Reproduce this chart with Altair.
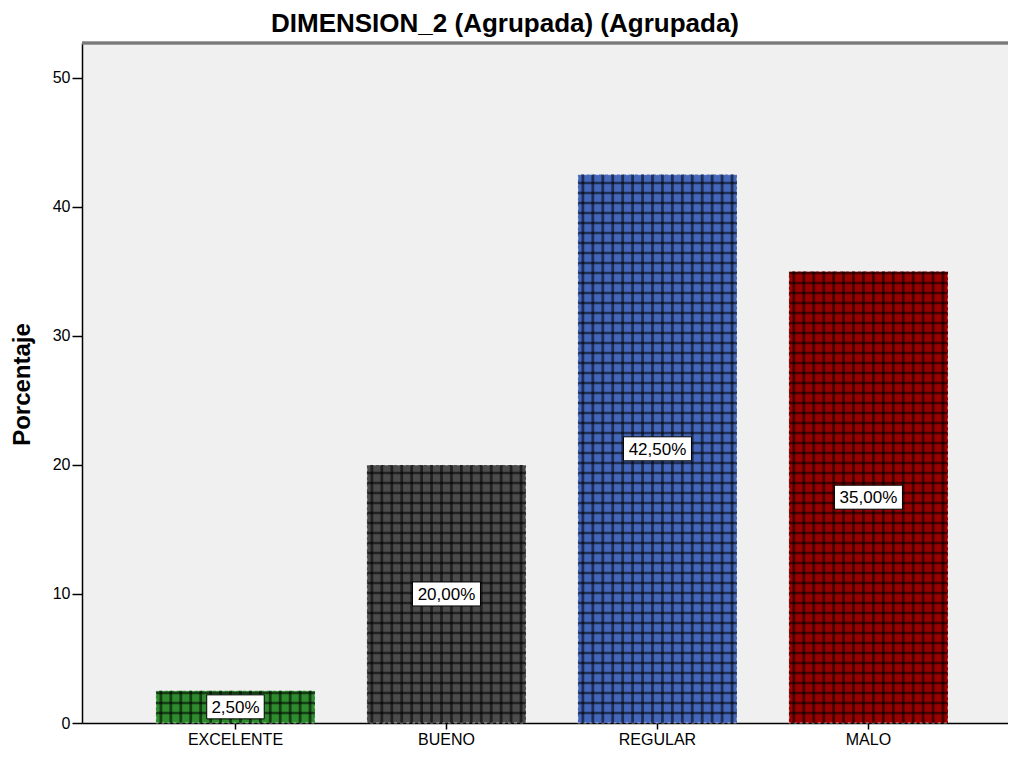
import altair as alt
import pandas as pd

categories = ["EXCELENTE", "BUENO", "REGULAR", "MALO"]
percentages = [2.5, 20.0, 42.5, 35.0]
value_labels = ["2,50%", "20,00%", "42,50%", "35,00%"]
bar_colors = ["#2e8b2e", "#4b4b4b", "#4466bb", "#990000"]
y_ticks = [0, 10, 20, 30, 40, 50]
y_top = 52.7

df = pd.DataFrame({"cat": categories, "pct": percentages, "label": value_labels})

FONT = "Liberation Sans"

x_axis = alt.Axis(title=None, labelAngle=0, labelFontSize=16, labelFont=FONT,
                  labelColor="#000", tickSize=6, tickColor="#000", tickWidth=1.5,
                  domainColor="#000", domainWidth=1.5, labelPadding=2, labelBaseline="top")
x_scale = alt.Scale(domain=categories, paddingInner=0.246, paddingOuter=0.3174, align=0.552)
y_axis = alt.Axis(values=y_ticks, title="Porcentaje", grid=False, labelFontSize=16,
                  labelFont=FONT, labelColor="#000", tickSize=10, tickColor="#000",
                  tickWidth=1.5, domainColor="#000", domainWidth=1.5, labelPadding=2,
                  titleFont=FONT, titleFontSize=24, titleFontWeight="bold",
                  titleColor="#000", titleX=-60, titleY=341, titleAngle=-90,
                  titleAlign="center", titleBaseline="middle")
y_scale = alt.Scale(domain=[0, y_top], nice=False)


def X():
    return alt.X("cat:N", scale=x_scale, axis=x_axis)


def Y(field):
    return alt.Y(field, scale=y_scale, axis=y_axis)


bars = alt.Chart(df).mark_bar(stroke="#ffffff", strokeDash=[3, 3], strokeWidth=1,
                              strokeOpacity=0.6).encode(
    x=X(), y=Y("pct:Q"),
    color=alt.Color("cat:N", scale=alt.Scale(domain=categories, range=bar_colors), legend=None),
)

vstripes = alt.Chart(df).transform_calculate(s="sequence(0, 16)").transform_flatten(["s"]).mark_bar(
    color="#000000", opacity=0.55
).encode(
    x=X(), y=Y("pct:Q"),
    xOffset=alt.XOffset("s:O", scale=alt.Scale(paddingInner=0.72, paddingOuter=0.36)),
)

hstripes = alt.Chart(df).transform_calculate(k="sequence(1, 70)").transform_flatten(["k"]).transform_calculate(
    hy="datum.k * 0.775"
).transform_filter("datum.hy < datum.pct").mark_tick(
    color="#000000", opacity=0.55, thickness=2.5, size=159, orient="horizontal"
).encode(x=X(), y=Y("hy:Q"))

boxes = alt.Chart(df).transform_calculate(
    mid="datum.pct / 2",
    hw="(length(datum.label) * 10.5 + 5) / 2",
).transform_calculate(
    path="'M' + (-datum.hw) + ',-12H' + datum.hw + 'V12H' + (-datum.hw) + 'Z'"
).mark_point(filled=True, fill="#ffffff", stroke="#000000", strokeWidth=1, opacity=1, size=4).encode(
    x=X(), y=Y("mid:Q"), shape=alt.Shape("path:N", scale=None)
)

texts = alt.Chart(df).transform_calculate(mid="datum.pct / 2").mark_text(
    font=FONT, fontSize=17, color="#000000", baseline="middle", align="center", dy=1
).encode(x=X(), y=Y("mid:Q"), text="label:N")

top_frame = alt.Chart(df).mark_rule(color="#7a7a7a", strokeWidth=2.5).encode(
    y=alt.datum(y_top, scale=y_scale, axis=y_axis)
)

chart = alt.layer(bars, vstripes, hstripes, boxes, texts, top_frame).properties(
    width=926, height=680,
    title=alt.TitleParams("DIMENSION_2 (Agrupada) (Agrupada)", font=FONT, fontSize=26,
                          fontWeight="bold", color="#000", anchor="middle", dx=-40, offset=5),
    padding={"left": 74, "top": 35, "right": 0, "bottom": 27},
    autosize=alt.AutoSizeParams(type="none"),
    background="#ffffff",
).configure_view(fill="#f0f0f0", stroke=None)

chart.save("out.html", embed_options={"renderer": "svg", "actions": False})
